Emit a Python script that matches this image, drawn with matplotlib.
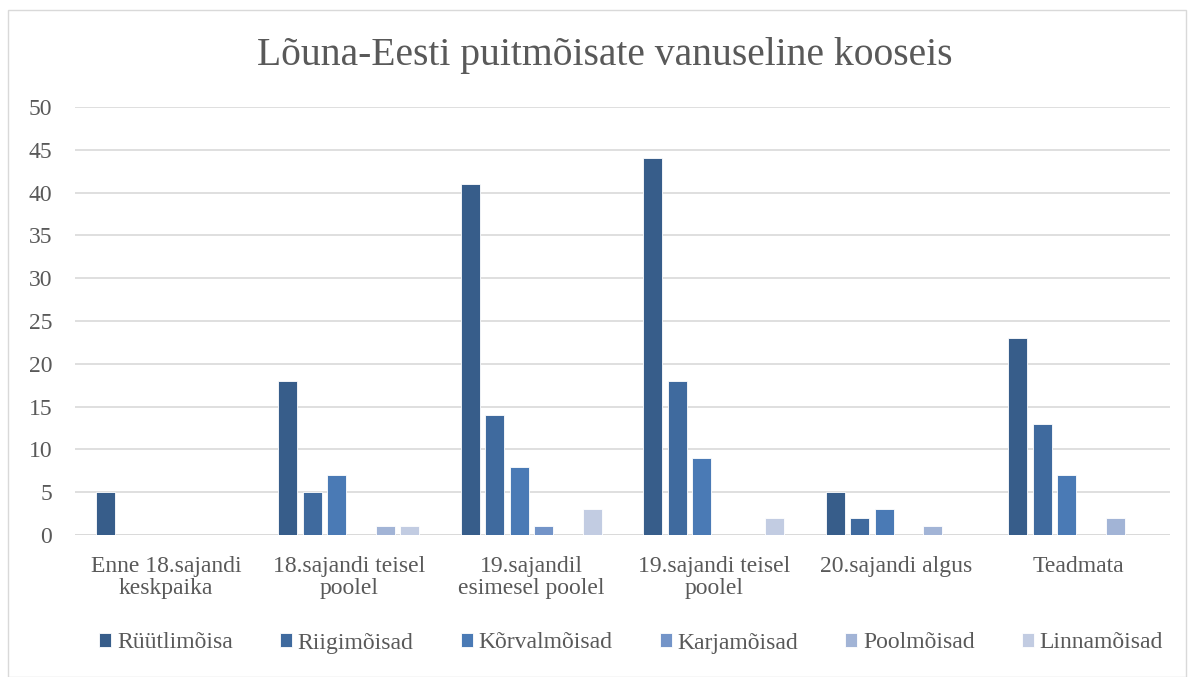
import matplotlib
matplotlib.use('Agg')
import matplotlib.pyplot as plt
import numpy as np
from matplotlib.patches import Rectangle

# --- DATA ---
categories = ["Enne 18.sajandi\nkeskpaika", "18.sajandi teisel\npoolel",
              "19.sajandil\nesimesel poolel", "19.sajandi teisel\npoolel",
              "20.sajandi algus", "Teadmata"]
series_names = ["Rüütlimõisa", "Riigimõisad", "Kõrvalmõisad",
                "Karjamõisad", "Poolmõisad", "Linnamõisad"]
ryytli = [5, 18, 41, 44, 5, 23]
riigi = [0, 5, 14, 18, 2, 13]
korval = [0, 7, 8, 9, 3, 7]
karja = [0, 0, 1, 0, 0, 0]
pool = [0, 1, 0, 0, 1, 2]
linna = [0, 1, 3, 2, 0, 0]
colors = ["#375D8A", "#3F6A9E", "#4A7AB5", "#7394C8", "#A2B4D6", "#C2CCE2"]

plt.rcParams['font.family'] = ['Liberation Serif']
TXT = "#595959"
FS = 17

fig = plt.figure(figsize=(11.94, 6.77), dpi=100)
ax = fig.add_axes([75 / 1194, 1 - 535 / 677, 1095 / 1194, 428 / 677])

x = np.arange(len(categories))
step = 0.134
width = 0.104
all_series = [ryytli, riigi, korval, karja, pool, linna]
for i, (vals, name, c) in enumerate(zip(all_series, series_names, colors)):
    offs = (i - 2.5) * step
    ax.bar(x + offs, vals, width, color=c, label=name,
           edgecolor="white", linewidth=0.6, zorder=3)

ax.set_xlim(-0.5, len(categories) - 0.5)
ax.set_ylim(0, 50)
ax.set_yticks(range(0, 51, 5))
ax.yaxis.grid(True, color="#D9D9D9", linewidth=1.2, zorder=0)
ax.set_xticks(x)
ax.set_xticklabels(categories, fontsize=FS, color=TXT, linespacing=1.1)
ax.tick_params(axis='both', length=0, labelsize=FS, labelcolor=TXT)
ax.tick_params(axis='y', pad=16.5)
ax.tick_params(axis='x', pad=15)
for s in ax.spines.values():
    s.set_visible(False)
ax.axhline(0, color="#D9D9D9", linewidth=1.2, zorder=2)

fig.text(605 / 1194, 1 - 55 / 677, "Lõuna-Eesti puitmõisate vanuseline kooseis",
         ha="center", va="center", fontsize=28.5, color=TXT)

leg = ax.legend(loc="center", bbox_to_anchor=(0.508, (535 - 643) / 428),
                ncol=6, frameon=False, fontsize=FS, labelcolor=TXT,
                handlelength=0.5, handleheight=0.5, handletextpad=0.25,
                columnspacing=2.0)

fig.patches.append(Rectangle((8 / 1194, 0), 1 - 16 / 1194, 1 - 10 / 677,
                             transform=fig.transFigure, fill=False,
                             edgecolor="#D9D9D9", linewidth=1))

fig.savefig("out.png", dpi=100)
